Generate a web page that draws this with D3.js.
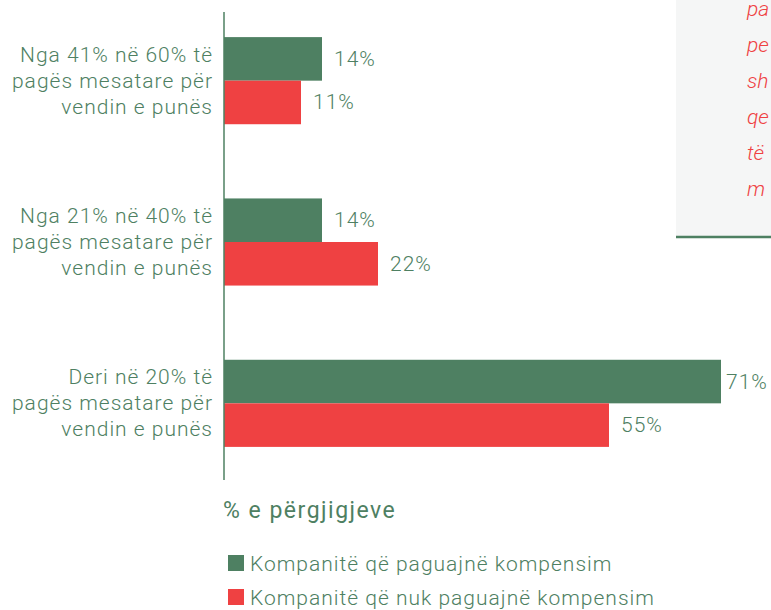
<!DOCTYPE html>
<html>
<head>
<meta charset="utf-8">
<script src="https://cdn.jsdelivr.net/npm/d3@7"></script>
<style>
  body { margin: 0; background: #fff; }
  svg { display: block; font-family: Roboto, sans-serif; font-weight: 300; letter-spacing: 1px; }
</style>
</head>
<body>
<svg id="chart"></svg>
<script>
// categories, top to bottom (each label split in lines)
const categories = [
  ["Nga 41% në 60% të", "pagës mesatare për", "vendin e punës"],
  ["Nga 21% në 40% të", "pagës mesatare për", "vendin e punës"],
  ["Deri në 20% të", "pagës mesatare për", "vendin e punës"]
];
const series = ["Kompanitë që paguajnë kompensim", "Kompanitë që nuk paguajnë kompensim"];
const paying = [14, 14, 71];
const notPaying = [11, 22, 55];
// side note, only its first letters show at the right edge
const noteLines = ["pa", "pe", "sh", "qe", "të", "m"];

const green = "#4e8062",
      red = "#ef4142";

let W = 771, H = 610;
let svg = d3.select("#chart").attr("width", W).attr("height", H);

// grey note box on the right
let note = svg.append("g");
note.append("rect")
  .attr("x", 676).attr("y", 0)
  .attr("width", W - 676).attr("height", 237)
  .attr("fill", "#f5f6f6");
note.append("line")
  .attr("x1", 676).attr("x2", W)
  .attr("y1", 237).attr("y2", 237)
  .attr("stroke", green).attr("stroke-width", 2.5);
note.selectAll("text").data(noteLines).enter().append("text")
  .attr("x", 747)
  .attr("y", (d, i) => 16 + i * 36)
  .attr("fill", red)
  .attr("font-size", 21)
  .attr("font-style", "italic")
  .style("letter-spacing", "0px")
  .text(d => d);

let x0 = 224;
let x = d3.scaleLinear().domain([0, 100]).range([x0, x0 + 700]);
let y = d3.scaleBand().domain(d3.range(categories.length)).range([0, 484]).paddingInner(0.46).paddingOuter(0.23);
let inner = d3.scaleBand().domain([0, 1]).range([0, y.bandwidth()]);

let data = categories.map((c, i) => ({ i, label: c, vals: [paying[i], notPaying[i]] }));

let groups = svg.selectAll(".grp").data(data).enter().append("g")
  .attr("class", "grp")
  .attr("transform", d => `translate(0,${y(d.i)})`);

groups.selectAll("rect").data(d => d.vals).enter().append("rect")
  .attr("x", x(0))
  .attr("y", (d, j) => inner(j))
  .attr("width", d => x(d) - x(0))
  .attr("height", inner.bandwidth())
  .attr("fill", (d, j) => j === 0 ? green : red);

groups.selectAll(".val").data(d => d.vals).enter().append("text")
  .attr("class", "val")
  .attr("x", d => x(d) + (d > 60 ? 5 : 12))
  .attr("y", (d, j) => inner(j) + inner.bandwidth() / 2 + 7)
  .attr("fill", green)
  .attr("font-size", 21)
  .text(d => d + "%");

groups.append("text")
  .attr("text-anchor", "end")
  .attr("fill", green)
  .attr("font-size", 21)
  .selectAll("tspan").data(d => d.label).enter().append("tspan")
    .attr("x", 213)
    .attr("y", (d, k) => y.bandwidth() / 2 + 7 + (k - 1) * 26)
    .text(d => d);

// axis line
svg.append("line")
  .attr("x1", x(0)).attr("x2", x(0))
  .attr("y1", 12).attr("y2", 480)
  .attr("stroke", green).attr("stroke-width", 1.5);

svg.append("text")
  .attr("x", 223).attr("y", 518)
  .attr("fill", green)
  .attr("font-size", 23)
  .attr("font-weight", 400)
  .style("letter-spacing", "1.5px")
  .text("% e përgjigjeve");

let legend = svg.selectAll(".leg").data(series).enter().append("g")
  .attr("class", "leg")
  .attr("transform", (d, i) => `translate(228,${555 + i * 34})`);
legend.append("rect")
  .attr("width", 16).attr("height", 16)
  .attr("fill", (d, i) => i === 0 ? green : red);
legend.append("text")
  .attr("x", 22).attr("y", 16)
  .attr("fill", green)
  .attr("font-size", 21)
  .text(d => d);
</script>
</body>
</html>
